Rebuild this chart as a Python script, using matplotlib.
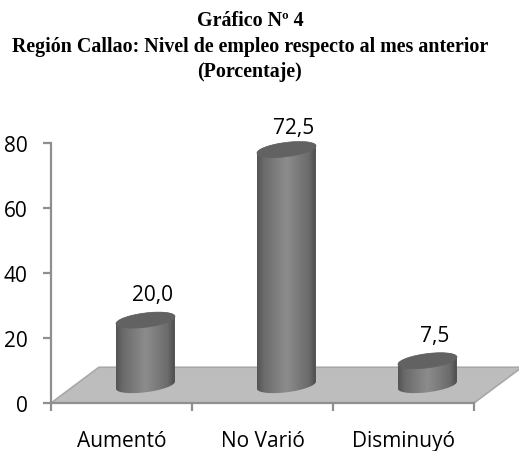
import matplotlib
matplotlib.use("Agg")
import matplotlib.pyplot as plt
import numpy as np
from matplotlib.patches import Polygon

categories = ["Aumentó", "No Varió", "Disminuyó"]
values = [20.0, 72.5, 7.5]
value_labels = ["20,0", "72,5", "7,5"]
y_ticks = [0, 20, 40, 60, 80]

W, H = 519, 452
TEXT_FONT = "Open Sans"
TITLE_FONT = "Liberation Serif"
AXIS_COLOR = "#8f8f8f"
FLOOR_COLOR = "#bdbdbd"
FLOOR_EDGE = "#a8a8a8"
TOP_COLOR = "#626262"

# depth of the fake 3D floor, in data units
DEPTH_X = 0.34
DEPTH_Y = 11
BAR_HALF = 0.209
ELL_B = 2.2
ELL_K = 1.1

# label offsets from the top of each bar, in points
label_dy = [18.5, 15.5, 18]

fig = plt.figure(figsize=(W / 100, H / 100), dpi=100)
ax = fig.add_axes([51 / W, 1 - 404 / H, (474 - 51) / W, (404 - 144) / H])
ax.patch.set_alpha(0)


def ellipse(cx, cy, t):
    return cx + BAR_HALF * np.cos(t), cy + ELL_B * np.sin(t) + ELL_K * np.cos(t)


floor = Polygon([(0, 0), (DEPTH_X, DEPTH_Y), (3 + DEPTH_X, DEPTH_Y), (3, 0)],
                closed=True, facecolor=FLOOR_COLOR, edgecolor=FLOOR_EDGE,
                linewidth=1.2, clip_on=False, zorder=1)
ax.add_patch(floor)

# horizontal shading across a cylinder
shade = np.interp(np.linspace(0, 1, 120), [0, 0.12, 0.5, 0.88, 1],
                  [0.33, 0.42, 0.55, 0.42, 0.30])[None, :]

for i, (val, lab) in enumerate(zip(values, value_labels)):
    cx = i + 0.5 + DEPTH_X / 2
    base = DEPTH_Y / 2
    top = base + val

    # body outline: top rim from left to right, then the lower arc of the base
    t_top = np.linspace(np.pi, 0, 60)
    t_bot = np.linspace(0, -np.pi, 60)
    xt, yt = ellipse(cx, top, t_top)
    xb, yb = ellipse(cx, base, t_bot)
    body = Polygon(np.column_stack([np.r_[xt, xb], np.r_[yt, yb]]), closed=True,
                   facecolor="none", edgecolor="none", clip_on=False)
    ax.add_patch(body)
    im = ax.imshow(shade, cmap="gray", vmin=0, vmax=1, aspect="auto", zorder=3,
                   extent=[cx - BAR_HALF, cx + BAR_HALF, base - 4, top + 4],
                   interpolation="bilinear", clip_on=True)
    im.set_clip_path(body)

    t = np.linspace(0, 2 * np.pi, 120)
    xe, ye = ellipse(cx, top, t)
    ax.fill(xe, ye, color=TOP_COLOR, zorder=4, clip_on=False, linewidth=0.5)

    ax.annotate(lab, (cx, top), xytext=(5, label_dy[i]), textcoords="offset points",
                ha="center", va="center", fontsize=15, family=TEXT_FONT,
                color="black", annotation_clip=False)

ax.set_xlim(0, 3)
ax.set_ylim(0, 80)

ax.set_yticks(y_ticks)
ax.set_xticks([0, 1, 2, 3])
ax.set_xticklabels([])
ax.set_xticks(np.arange(3) + 0.5, labels=categories, minor=True)
ax.tick_params(axis="both", which="major", length=6, width=1.6, color=AXIS_COLOR,
               labelsize=15, labelcolor="black", pad=11)
ax.tick_params(axis="x", which="minor", length=0, labelsize=15, pad=19.5)
for tick in ax.get_xticklabels(minor=True) + ax.get_yticklabels():
    tick.set_fontfamily(TEXT_FONT)

for side in ("top", "right"):
    ax.spines[side].set_visible(False)
for side in ("left", "bottom"):
    ax.spines[side].set_color(AXIS_COLOR)
    ax.spines[side].set_linewidth(1.6)
    ax.spines[side].set_zorder(2)

title_lines = ["Gráfico Nº 4",
               "Región Callao: Nivel de empleo respecto al mes anterior",
               "(Porcentaje)"]
for line, y_px in zip(title_lines, [21, 47, 72]):
    fig.text(250 / W, 1 - y_px / H, line, ha="center", va="center",
             family=TITLE_FONT, fontweight="bold", fontsize=14.4, color="black")

fig.savefig("out.png", dpi=100, facecolor="white")
